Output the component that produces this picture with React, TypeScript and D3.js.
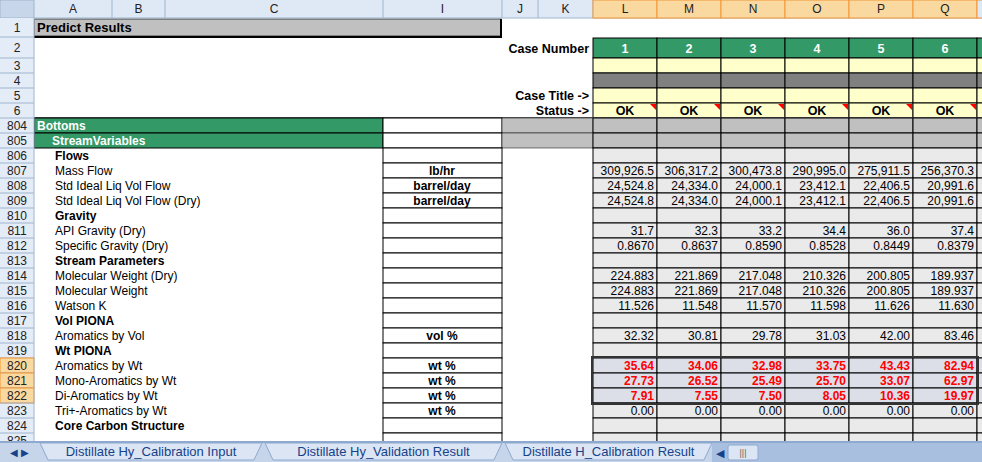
import React from "react";
import * as d3 from "d3";

const colLetters = ["L", "M", "N", "O", "P", "Q", "R"];
const caseNumbers = ["1", "2", "3", "4", "5", "6", ""];
type Row = { num: number; label: string; kind: "sec" | "sub" | "head" | "data" | "sel"; unit?: string; vals?: string[] };
const rows: Row[] = [
  { num: 804, label: "Bottoms", kind: "sec" },
  { num: 805, label: "StreamVariables", kind: "sub" },
  { num: 806, label: "Flows", kind: "head" },
  { num: 807, label: "Mass Flow", kind: "data", unit: "lb/hr", vals: ["309,926.5", "306,317.2", "300,473.8", "290,995.0", "275,911.5", "256,370.3"] },
  { num: 808, label: "Std Ideal Liq Vol Flow", kind: "data", unit: "barrel/day", vals: ["24,524.8", "24,334.0", "24,000.1", "23,412.1", "22,406.5", "20,991.6"] },
  { num: 809, label: "Std Ideal Liq Vol Flow (Dry)", kind: "data", unit: "barrel/day", vals: ["24,524.8", "24,334.0", "24,000.1", "23,412.1", "22,406.5", "20,991.6"] },
  { num: 810, label: "Gravity", kind: "head" },
  { num: 811, label: "API Gravity (Dry)", kind: "data", unit: "", vals: ["31.7", "32.3", "33.2", "34.4", "36.0", "37.4"] },
  { num: 812, label: "Specific Gravity (Dry)", kind: "data", unit: "", vals: ["0.8670", "0.8637", "0.8590", "0.8528", "0.8449", "0.8379"] },
  { num: 813, label: "Stream Parameters", kind: "head" },
  { num: 814, label: "Molecular Weight (Dry)", kind: "data", unit: "", vals: ["224.883", "221.869", "217.048", "210.326", "200.805", "189.937"] },
  { num: 815, label: "Molecular Weight", kind: "data", unit: "", vals: ["224.883", "221.869", "217.048", "210.326", "200.805", "189.937"] },
  { num: 816, label: "Watson K", kind: "data", unit: "", vals: ["11.526", "11.548", "11.570", "11.598", "11.626", "11.630"] },
  { num: 817, label: "Vol PIONA", kind: "head" },
  { num: 818, label: "Aromatics by Vol", kind: "data", unit: "vol %", vals: ["32.32", "30.81", "29.78", "31.03", "42.00", "83.46"] },
  { num: 819, label: "Wt PIONA", kind: "head" },
  { num: 820, label: "Aromatics by Wt", kind: "sel", unit: "wt %", vals: ["35.64", "34.06", "32.98", "33.75", "43.43", "82.94"] },
  { num: 821, label: "Mono-Aromatics by Wt", kind: "sel", unit: "wt %", vals: ["27.73", "26.52", "25.49", "25.70", "33.07", "62.97"] },
  { num: 822, label: "Di-Aromatics by Wt", kind: "sel", unit: "wt %", vals: ["7.91", "7.55", "7.50", "8.05", "10.36", "19.97"] },
  { num: 823, label: "Tri+-Aromatics by Wt", kind: "data", unit: "wt %", vals: ["0.00", "0.00", "0.00", "0.00", "0.00", "0.00"] },
  { num: 824, label: "Core Carbon Structure", kind: "head" },
  { num: 825, label: "", kind: "data", unit: "", vals: ["", "", "", "", "", ""] },
];
const tabs = ["Distillate Hy_Calibration Input", "Distillate Hy_Validation Result", "Distillate H_Calibration Result"];

const F = "'Liberation Sans Narrow', 'Arial Narrow', 'Liberation Sans', sans-serif";

export default function App() {
  const x = d3.scaleBand<string>().domain(colLetters).range([593, 593 + 64 * 7]);
  const y = d3.scaleLinear().domain([804, 805]).range([118, 133]);
  const rh = 15;
  const topRows = [
    { n: "1", y0: 18, y1: 37 },
    { n: "2", y0: 37, y1: 58 },
    { n: "3", y0: 58, y1: 73 },
    { n: "4", y0: 73, y1: 88 },
    { n: "5", y0: 88, y1: 103 },
    { n: "6", y0: 103, y1: 118 },
  ];
  const hdrCols = [
    { l: "A", a: 34, b: 112 },
    { l: "B", a: 112, b: 165 },
    { l: "C", a: 165, b: 383 },
    { l: "I", a: 383, b: 502 },
    { l: "J", a: 502, b: 538 },
    { l: "K", a: 538, b: 593 },
  ];
  return (
    <svg width={982} height={462} style={{ position: "fixed", left: 0, top: 0, background: "#fff" }} fontFamily={F}>
      <rect x={34} y={19} width={467} height={17} fill="#c0c0c0" stroke="#404040" />
      <line x1={501} y1={19} x2={501} y2={37} stroke="#000" strokeWidth={2} />
      <line x1={34} y1={37} x2={502} y2={37} stroke="#000" strokeWidth={2} />
      <text x={37} y={32} fontSize={13} fontWeight="bold">Predict Results</text>
      <text x={589} y={53} fontSize={12.5} fontWeight="bold" textAnchor="end">Case Number</text>
      <text x={589} y={100} fontSize={12.5} fontWeight="bold" textAnchor="end">Case Title -&gt;</text>
      <text x={589} y={115} fontSize={12.5} fontWeight="bold" textAnchor="end">Status -&gt;</text>
      {colLetters.map((c, i) => {
        const x0 = x(c)!;
        const w = x.bandwidth();
        const vis = c !== "R";
        return (
          <g key={c}>
            <rect x={x0} y={38} width={w} height={20} fill="#339966" stroke="#000" />
            <text x={x0 + w / 2} y={53} fill="#fff" fontSize={12.5} fontWeight="bold" textAnchor="middle">{caseNumbers[i]}</text>
            <rect x={x0} y={58} width={w} height={15} fill="#ffffcc" stroke="#000" />
            <rect x={x0} y={73} width={w} height={15} fill="#808080" stroke="#000" />
            <rect x={x0} y={88} width={w} height={15} fill="#ffffcc" stroke="#000" />
            <rect x={x0} y={103} width={w} height={15} fill="#ffffcc" stroke="#000" />
            {vis && <text x={x0 + w / 2} y={115} fontSize={12.5} fontWeight="bold" textAnchor="middle">OK</text>}
            {vis && <path d={`M${x0 + w - 7},${104} L${x0 + w - 1},${104} L${x0 + w - 1},${110} Z`} fill="#ff0000" />}
          </g>
        );
      })}
      <line x1={0} y1={118} x2={982} y2={118} stroke="#606060" strokeWidth={2} />
      {rows.map((r) => {
        const y0 = y(r.num);
        const isSec = r.kind === "sec" || r.kind === "sub";
        const lx = r.kind === "sec" ? 37 : r.kind === "sub" ? 52 : 55;
        return (
          <g key={r.num}>
            {isSec && <rect x={34} y={y0} width={349} height={rh} fill="#339966" stroke="#000" />}
            <rect x={383} y={y0} width={119} height={rh} fill="#fff" stroke="#000" />
            {isSec && <rect x={502} y={y0} width={91} height={rh} fill="#c0c0c0" stroke="#000" strokeWidth={0.5} />}
            {r.label && (
              <text x={lx} y={y0 + 11.5} fontSize={12} fontWeight={r.kind === "data" || r.kind === "sel" ? "normal" : "bold"} fill={isSec ? "#fff" : "#000"}>{r.label}</text>
            )}
            {r.unit && <text x={442} y={y0 + 11.5} fontSize={12} fontWeight="bold" textAnchor="middle">{r.unit}</text>}
            {colLetters.map((c, i) => {
              const x0 = x(c)!;
              const w = x.bandwidth();
              const fill = isSec ? "#c0c0c0" : r.kind === "sel" ? "#dcdfe8" : "#eaeaea";
              const v = r.vals ? r.vals[i] : undefined;
              return (
                <g key={c}>
                  <rect x={x0} y={y0} width={w} height={rh} fill={fill} stroke="#000" />
                  {v && (
                    <text x={x0 + w - 3} y={y0 + 11.5} fontSize={12} textAnchor="end" fill={r.kind === "sel" ? "#ff0000" : "#000"} fontWeight={r.kind === "sel" ? "bold" : "normal"}>{v}</text>
                  )}
                </g>
              );
            })}
          </g>
        );
      })}
      <rect x={592} y={y(820) - 1} width={386} height={rh * 3 + 2} fill="none" stroke="#333" strokeWidth={2} />
      <rect x={0} y={0} width={982} height={18} fill="#dfe8f5" />
      <line x1={0} y1={18} x2={982} y2={18} stroke="#9eb6ce" />
      <rect x={0} y={0} width={34} height={18} fill="#c8d6ea" stroke="#9eb6ce" />
      {hdrCols.map((h) => (
        <g key={h.l}>
          <line x1={h.b} y1={0} x2={h.b} y2={18} stroke="#9eb6ce" />
          <text x={(h.a + h.b) / 2} y={13} fontSize={12} textAnchor="middle" fontFamily="'Liberation Sans', sans-serif" fill="#222">{h.l}</text>
        </g>
      ))}
      {colLetters.map((c) => (
        <g key={c}>
          <rect x={x(c)!} y={0} width={x.bandwidth()} height={18} fill={c === "R" ? "#dfe8f5" : "#f9d99f"} stroke="#f29536" />
          {c !== "R" && <text x={x(c)! + x.bandwidth() / 2} y={13} fontSize={12} textAnchor="middle" fontFamily="'Liberation Sans', sans-serif" fill="#222">{c}</text>}
        </g>
      ))}
      <rect x={0} y={18} width={34} height={423} fill="#e4ecf7" />
      {topRows.map((t) => (
        <g key={t.n}>
          <line x1={0} y1={t.y1} x2={34} y2={t.y1} stroke="#9eb6ce" />
          <text x={17} y={(t.y0 + t.y1) / 2 + 4.5} fontSize={12} textAnchor="middle" fontFamily="'Liberation Sans', sans-serif" fill="#222">{t.n}</text>
        </g>
      ))}
      {rows.map((r) => {
        const y0 = y(r.num);
        const sel = r.kind === "sel";
        return (
          <g key={r.num}>
            {sel && <rect x={0} y={y0} width={34} height={rh} fill="#f9d99f" stroke="#f29536" />}
            <line x1={0} y1={y0 + rh} x2={34} y2={y0 + rh} stroke="#9eb6ce" />
            <text x={17} y={y0 + 11.5} fontSize={12} textAnchor="middle" fontFamily="'Liberation Sans', sans-serif" fill="#222">{r.num}</text>
          </g>
        );
      })}
      <line x1={34} y1={18} x2={34} y2={441} stroke="#9eb6ce" />
      <rect x={0} y={441} width={982} height={21} fill="#c6d5ea" />
      <rect x={0} y={441} width={982} height={2} fill="#8ea9cf" />
      <text x={10} y={456} fontSize={10} fill="#15428b">◀ ▶</text>
      {tabs.map((t, i) => {
        const xs = [40, 265, 505][i];
        const xe = [262, 502, 712][i];
        return (
          <g key={t}>
            <path d={`M${xs},443 L${xe},443 L${xe - 8},460 L${xs + 8},460 Z`} fill="#dbe5f3" stroke="#8ea9cf" />
            <text x={(xs + xe) / 2} y={456} fontSize={13} textAnchor="middle" fill="#15428b" fontFamily="'Liberation Sans', sans-serif">{t}</text>
          </g>
        );
      })}
      <rect x={712} y={443} width={270} height={19} fill="#a9bfe0" />
      <text x={716} y={457} fontSize={11} fill="#15428b">◀</text>
      <rect x={728} y={445} width={30} height={15} fill="#dbe5f3" stroke="#8ea9cf" rx={2} />
      <text x={743} y={456} fontSize={9} textAnchor="middle" fill="#666">|||</text>
    </svg>
  );
}
